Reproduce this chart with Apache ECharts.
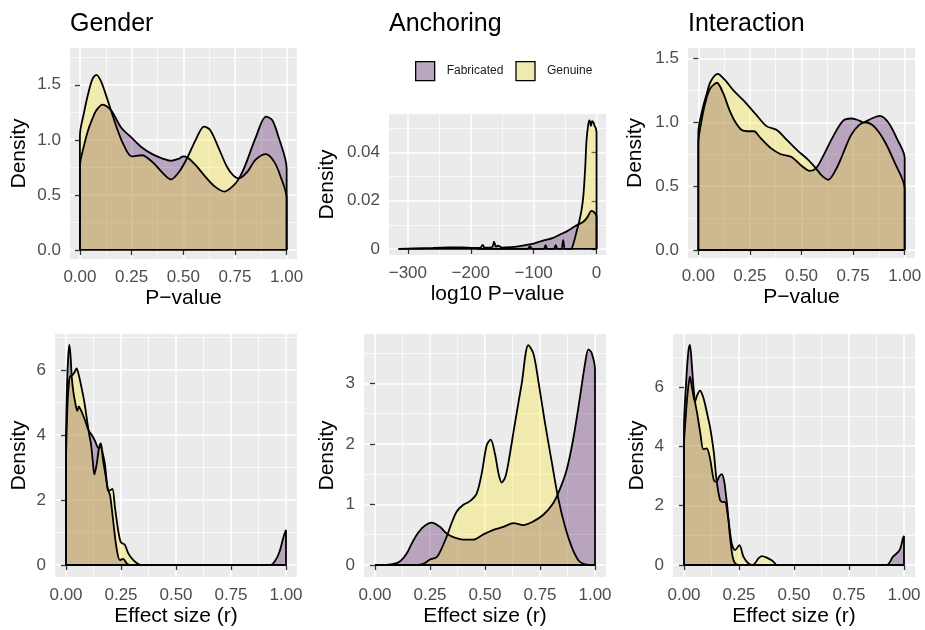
<!DOCTYPE html>
<html>
<head>
<meta charset="utf-8">
<script src="https://cdn.jsdelivr.net/npm/echarts@6/dist/echarts.min.js"></script>
<style>
  html, body { margin: 0; padding: 0; background: #fff; }
  #chart { width: 925px; height: 630px; }
</style>
</head>
<body>
<div id="chart"></div>
<script>
const FONT = '"Liberation Sans", Arial, Helvetica, sans-serif';
const seriesNames = ['Fabricated', 'Genuine'];
const panelTitles = ['Gender', 'Anchoring', 'Interaction'];

// tick values
const pTicks = [0, 0.25, 0.5, 0.75, 1];
const pMinor = [0.125, 0.375, 0.625, 0.875];
const densP = [0, 0.5, 1, 1.5];
const densPMinor = [0.25, 0.75, 1.25, 1.75];
const logTicks = [-300, -200, -100, 0];
const logMinor = [-250, -150, -50];
const densLog = [0, 0.02, 0.04];
const densLogMinor = [0.01, 0.03, 0.05];
const densR6 = [0, 2, 4, 6];
const densR6Minor = [1, 3, 5, 7];
const densR3 = [0, 1, 2, 3];
const densR3Minor = [0.5, 1.5, 2.5, 3.5];

// density curves: [x, density]
const genderPFab = [[0,0.76],[0.02,0.95],[0.04,1.09],[0.06,1.19],[0.08,1.27],[0.11,1.32],[0.15,1.27],[0.2,1.11],[0.25,1.02],[0.3,0.93],[0.35,0.87],[0.4,0.83],[0.44,0.81],[0.48,0.83],[0.5,0.85],[0.52,0.84],[0.56,0.77],[0.6,0.68],[0.65,0.58],[0.7,0.53],[0.74,0.58],[0.77,0.65],[0.8,0.77],[0.85,1.02],[0.9,1.21],[0.93,1.18],[0.96,1.03],[1,0.74]];
const genderPGen = [[0,1.04],[0.02,1.25],[0.04,1.42],[0.06,1.55],[0.08,1.59],[0.1,1.54],[0.12,1.44],[0.15,1.27],[0.18,1.1],[0.21,0.96],[0.25,0.85],[0.3,0.86],[0.35,0.8],[0.4,0.7],[0.44,0.64],[0.48,0.71],[0.52,0.84],[0.56,1.0],[0.6,1.12],[0.63,1.09],[0.67,0.93],[0.71,0.76],[0.74,0.68],[0.77,0.65],[0.81,0.71],[0.85,0.82],[0.9,0.87],[0.94,0.8],[0.97,0.67],[1,0.47]];

const anchorPFab = [[-315,0.0002],[-290,0.0002],[-260,0.0004],[-235,0.0007],[-215,0.0007],[-195,0.0004],[-185,0.0005],[-181,0.0017],[-178,0.0005],[-166,0.0008],[-163,0.003],[-160,0.001],[-157,0.0014],[-150,0.0006],[-135,0.0008],[-127,0.001],[-115,0.0015],[-100,0.0022],[-85,0.0035],[-70,0.0045],[-58,0.006],[-48,0.0072],[-35,0.0093],[-28,0.0103],[-21,0.0113],[-15,0.013],[-8,0.0158],[-3,0.015],[0,0.0134]];
const anchorPGen = [[-190,0],[-110,0],[-106,0.0012],[-102,0],[-84,0],[-81,0.0016],[-78,0],[-68,0],[-65,0.0016],[-62,0],[-56,0],[-53,0.0037],[-50,0],[-41,0],[-36,0.003],[-32,0.007],[-28,0.011],[-24,0.016],[-21,0.022],[-18,0.034],[-16,0.045],[-13,0.052],[-11,0.0533],[-9,0.051],[-7,0.053],[-5,0.0525],[-3,0.051],[-1,0.05],[0,0.048]];

const interPFab = [[0,0.83],[0.02,1.05],[0.04,1.19],[0.06,1.27],[0.09,1.31],[0.12,1.23],[0.15,1.1],[0.18,1.0],[0.21,0.94],[0.24,0.93],[0.27,0.93],[0.3,0.88],[0.35,0.8],[0.4,0.75],[0.45,0.73],[0.5,0.66],[0.54,0.62],[0.57,0.64],[0.6,0.72],[0.65,0.88],[0.7,1.01],[0.74,1.03],[0.77,1.02],[0.8,1.0],[0.84,1.03],[0.88,1.05],[0.92,1.0],[0.96,0.88],[1,0.72]];
const interPGen = [[0,0.92],[0.02,1.1],[0.04,1.22],[0.06,1.32],[0.094,1.38],[0.13,1.33],[0.17,1.25],[0.22,1.17],[0.28,1.06],[0.33,0.97],[0.38,0.94],[0.43,0.86],[0.48,0.78],[0.53,0.71],[0.57,0.64],[0.6,0.58],[0.63,0.55],[0.67,0.64],[0.7,0.75],[0.74,0.9],[0.78,0.98],[0.81,1.0],[0.85,0.97],[0.9,0.86],[0.95,0.69],[1,0.48]];

const genderRFab = [[0,3.8],[0.005,5.6],[0.01,6.4],[0.015,6.77],[0.02,6.5],[0.026,5.8],[0.033,5.35],[0.041,5.03],[0.051,4.74],[0.058,4.88],[0.065,4.8],[0.071,4.72],[0.086,4.46],[0.102,4.15],[0.117,4.0],[0.132,3.82],[0.147,3.6],[0.158,3.62],[0.17,3.15],[0.18,2.75],[0.19,2.35],[0.2,2.15],[0.208,1.75],[0.215,1.33],[0.23,0.51],[0.245,0.15],[0.26,0.19],[0.276,0.05],[0.29,0],[0.93,0],[0.95,0.12],[0.97,0.4],[0.988,0.85],[1,1.08]];
const genderRGen = [[0,3.0],[0.006,4.8],[0.012,5.5],[0.018,5.8],[0.03,5.85],[0.04,5.95],[0.048,6.05],[0.058,5.85],[0.068,5.54],[0.083,5.03],[0.097,4.39],[0.106,4.0],[0.114,3.7],[0.122,3.18],[0.129,2.78],[0.139,3.08],[0.15,3.6],[0.158,3.74],[0.165,3.5],[0.177,3.1],[0.186,2.5],[0.192,2.28],[0.2,2.3],[0.211,2.34],[0.223,1.74],[0.238,1.03],[0.248,0.72],[0.258,0.66],[0.268,0.62],[0.283,0.36],[0.306,0.15],[0.33,0.02],[0.34,0]];

const anchorRFab = [[0,0],[0.05,0],[0.098,0.03],[0.12,0.08],[0.144,0.19],[0.165,0.34],[0.19,0.5],[0.22,0.63],[0.258,0.7],[0.295,0.63],[0.326,0.52],[0.356,0.46],[0.4,0.42],[0.447,0.42],[0.49,0.5],[0.538,0.58],[0.583,0.63],[0.63,0.69],[0.674,0.66],[0.72,0.72],[0.765,0.83],[0.81,1.02],[0.84,1.25],[0.871,1.57],[0.9,2.06],[0.932,2.78],[0.955,3.33],[0.97,3.56],[0.985,3.5],[1,3.22]];
const anchorRGen = [[0.18,0],[0.22,0.02],[0.25,0.09],[0.28,0.13],[0.3,0.25],[0.326,0.47],[0.348,0.69],[0.371,0.88],[0.4,0.99],[0.43,1.05],[0.462,1.18],[0.485,1.51],[0.508,1.98],[0.526,2.07],[0.545,1.84],[0.562,1.5],[0.576,1.36],[0.592,1.45],[0.606,1.68],[0.636,2.34],[0.667,3.0],[0.697,3.63],[0.72,3.49],[0.742,3.05],[0.773,2.34],[0.803,1.71],[0.833,1.1],[0.864,0.63],[0.894,0.3],[0.924,0.08],[0.947,0.02],[0.97,0]];

const interRFab = [[0,4.6],[0.01,6.2],[0.02,7.2],[0.027,7.41],[0.035,6.8],[0.043,6.0],[0.05,5.5],[0.06,5.1],[0.075,4.4],[0.088,3.9],[0.103,3.93],[0.118,3.6],[0.136,2.85],[0.148,2.8],[0.16,2.98],[0.171,3.06],[0.182,2.85],[0.19,2.4],[0.197,1.96],[0.209,0.95],[0.221,0.28],[0.232,0.06],[0.25,0],[0.92,0],[0.95,0.28],[0.98,0.5],[0.995,0.9],[1,0.98]];
const interRGen = [[0,4.0],[0.008,5.0],[0.015,5.67],[0.027,6.34],[0.038,5.9],[0.05,5.5],[0.06,5.72],[0.073,5.87],[0.085,5.7],[0.095,5.44],[0.108,5.0],[0.118,4.66],[0.128,4.2],[0.136,3.76],[0.148,2.86],[0.164,2.19],[0.178,2.12],[0.186,2.13],[0.2,1.63],[0.217,0.73],[0.232,0.5],[0.252,0.67],[0.27,0.28],[0.292,0.06],[0.312,0],[0.325,0.08],[0.338,0.22],[0.353,0.3],[0.376,0.25],[0.4,0.15],[0.42,0]];

const two = v => v.toFixed(2);
const one = v => v.toFixed(1);
const plain = v => String(v).replace('-', '\u2212');

const panels = [
  { fab: genderPFab, gen: genderPGen, box: [70, 48, 227, 211], xr: [-0.048, 1.05], yr: [-0.082, 1.834], xt: pTicks, xm: pMinor, yt: densP, ym: densPMinor, xf: two, yf: one, xname: 'P\u2212value', ygap: 40 },
  { fab: anchorPFab, gen: anchorPGen, box: [389, 114, 217, 141], xr: [-330, 15], yr: [-0.0025, 0.056], xt: logTicks, xm: logMinor, yt: densLog, ym: densLogMinor, xf: plain, yf: plain, xname: 'log10 P\u2212value', ygap: 51 },
  { fab: interPFab, gen: interPGen, box: [688, 48, 227, 210], xr: [-0.05, 1.05], yr: [-0.0626, 1.582], xt: pTicks, xm: pMinor, yt: densP, ym: densPMinor, xf: two, yf: one, xname: 'P\u2212value', ygap: 42 },
  { fab: genderRFab, gen: genderRGen, box: [55, 334, 242, 243], xr: [-0.05, 1.05], yr: [-0.369, 7.108], xt: pTicks, xm: pMinor, yt: densR6, ym: densR6Minor, xf: two, yf: plain, xname: 'Effect size (r)', ygap: 25 },
  { fab: anchorRFab, gen: anchorRGen, box: [364, 334, 242, 243], xr: [-0.05, 1.05], yr: [-0.198, 3.814], xt: pTicks, xm: pMinor, yt: densR3, ym: densR3Minor, xf: two, yf: plain, xname: 'Effect size (r)', ygap: 26 },
  { fab: interRFab, gen: interRGen, box: [673, 334, 242, 243], xr: [-0.05, 1.05], yr: [-0.404, 7.78], xt: pTicks, xm: pMinor, yt: densR6, ym: densR6Minor, xf: two, yf: plain, xname: 'Effect size (r)', ygap: 25 }
];

function mainAxis(i, range, ticks, fmt, name, gap, margin) {
  return {
    type: 'value', gridIndex: i, min: range[0], max: range[1],
    axisLine: { show: false },
    axisTick: { show: true, length: 5, lineStyle: { color: '#333333', width: 1.3 }, customValues: ticks },
    axisLabel: { customValues: ticks, formatter: fmt, color: '#4D4D4D', fontSize: 17, fontFamily: FONT, margin: margin },
    splitLine: { show: true, lineStyle: { color: '#FFFFFF', width: 1.5 } },
    name: name, nameLocation: 'middle', nameGap: gap,
    nameTextStyle: { color: '#000', fontSize: 21, fontFamily: FONT }
  };
}

function minorAxis(i, range, ticks) {
  return {
    type: 'value', gridIndex: i, min: range[0], max: range[1],
    axisLine: { show: false },
    axisTick: { show: false, customValues: ticks },
    axisLabel: { show: false },
    splitLine: { show: true, lineStyle: { color: '#FFFFFF', width: 0.75 } }
  };
}

function area(name, pts, color, ax) {
  let data = pts.slice();
  const first = pts[0], last = pts[pts.length - 1];
  if (first[1] !== 0) data.unshift([first[0], 0]);
  if (last[1] !== 0) data.push([last[0], 0]);
  return {
    type: 'line', name: name, xAxisIndex: ax, yAxisIndex: ax, data: data,
    smooth: 0.3, symbol: 'none', silent: true,
    itemStyle: { color: color },
    lineStyle: { color: '#000', width: 1.8 },
    areaStyle: { color: color, opacity: 0.3 }
  };
}

const grid = [], xAxis = [], yAxis = [], series = [];
panels.forEach((p, i) => {
  grid.push({ left: p.box[0], top: p.box[1], width: p.box[2], height: p.box[3], show: true, backgroundColor: '#EBEBEB', borderWidth: 0, outerBoundsMode: 'none' });
  xAxis.push(mainAxis(i, p.xr, p.xt, p.xf, p.xname, 29, 10));
  xAxis.push(minorAxis(i, p.xr, p.xm));
  yAxis.push(mainAxis(i, p.yr, p.yt, p.yf, 'Density', p.ygap, 9));
  yAxis.push(minorAxis(i, p.yr, p.ym));
  const ax = 2 * i;
  series.push(area(seriesNames[0], p.fab, '#440154', ax));
  series.push(area(seriesNames[1], p.gen, '#FDE725', ax));
  const x0 = Math.min(p.fab[0][0], p.gen[0][0]);
  const x1 = Math.max(p.fab[p.fab.length - 1][0], p.gen[p.gen.length - 1][0]);
  series.push({ type: 'line', xAxisIndex: ax, yAxisIndex: ax, data: [[x0, 0], [x1, 0]], symbol: 'none', silent: true, lineStyle: { color: '#000', width: 1.8 } });
});

const titleLefts = [70, 389, 688];
const title = panelTitles.map((t, i) => ({
  text: t, left: titleLefts[i], top: 12, padding: 0,
  textStyle: { fontSize: 25, fontWeight: 'normal', color: '#000', fontFamily: FONT }
}));

const chart = echarts.init(document.getElementById('chart'));
chart.setOption({
  animation: false,
  backgroundColor: '#FFFFFF',
  title: title,
  legend: {
    left: 415, top: 61, padding: 0, icon: 'rect',
    itemWidth: 19, itemHeight: 19, itemGap: 12, selectedMode: false,
    data: [
      { name: seriesNames[0], itemStyle: { color: '#B9A5BE', borderColor: '#000', borderWidth: 1.3 } },
      { name: seriesNames[1], itemStyle: { color: '#F0EAB0', borderColor: '#000', borderWidth: 1.3 } }
    ],
    textStyle: { fontSize: 12, color: '#1A1A1A', fontFamily: FONT, padding: [0, 0, 0, 7] }
  },
  grid: grid,
  xAxis: xAxis,
  yAxis: yAxis,
  series: series
});
</script>
</body>
</html>
